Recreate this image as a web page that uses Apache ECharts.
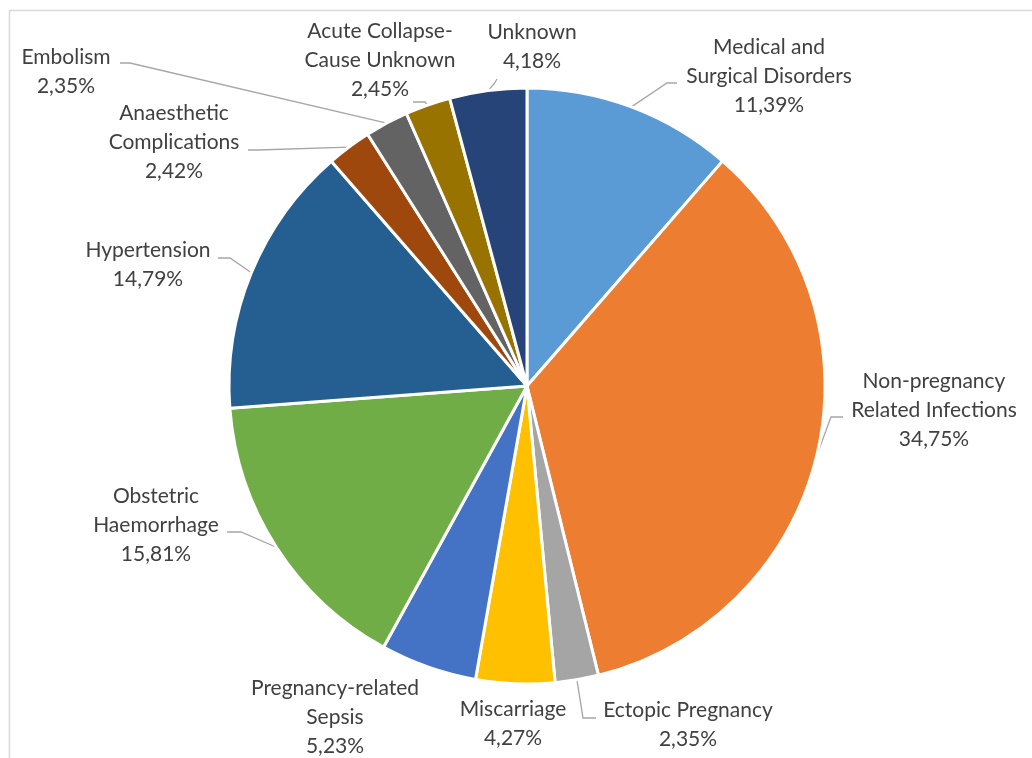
<!DOCTYPE html>
<html>
<head>
<meta charset="utf-8">
<script src="https://cdn.jsdelivr.net/npm/echarts@6/dist/echarts.min.js"></script>
<style>html,body{margin:0;padding:0;background:#fff}#c{width:1032px;height:758px}</style>
</head>
<body>
<div id="c"></div>
<script>
const categories = [
  "Medical and\nSurgical Disorders",
  "Non-pregnancy\nRelated Infections",
  "Ectopic Pregnancy",
  "Miscarriage",
  "Pregnancy-related\nSepsis",
  "Obstetric\nHaemorrhage",
  "Hypertension",
  "Anaesthetic\nComplications",
  "Embolism",
  "Acute Collapse-\nCause Unknown",
  "Unknown"
];
const values = [11.39, 34.75, 2.35, 4.27, 5.23, 15.81, 14.79, 2.42, 2.35, 2.45, 4.18];
const colors = ["#5B9BD5","#ED7D31","#A5A5A5","#FFC000","#4472C4","#70AD47","#255E91","#9E480E","#636363","#997300","#264478"];

// label placement (text block centre) and leader elbow/end points, in pixels
const labelPos = [[769,76],[934,410],[688,725],[513,724],[335,717],[156,525],[148,265],[174,142],[66,72],[380,60],[532,47]];
const leaderElbow = [[667,83],[831,417],[583,718],null,null,[241,532],[230,258],[258,150],[130,63],[425,102],[494,84]];
const leaderEnd = [[677,83],[843,417],[596,718],null,null,[227,532],[218,258],[248,150],[120,63],[413,102],[497,79]];

const fmt = v => v.toFixed(2).replace('.', ',') + '%';

const chart = echarts.init(document.getElementById('c'), null, {renderer: 'canvas'});
chart.setOption({
  animation: false,
  graphic: [{
    type: 'rect', silent: true,
    shape: {x: 9.5, y: 10.5, width: 1100, height: 800},
    style: {fill: 'none', stroke: '#d9d9d9', lineWidth: 1.5}
  }],
  series: [{
    type: 'pie',
    center: [527, 386],
    radius: [0, 298],
    startAngle: 90,
    clockwise: true,
    avoidLabelOverlap: false,
    data: categories.map((n, i) => ({
      name: n, value: values[i],
      itemStyle: {color: colors[i]},
      labelLine: {show: leaderEnd[i] !== null}
    })),
    itemStyle: {borderColor: '#fff', borderWidth: 3},
    label: {
      show: true, position: 'outside',
      formatter: p => p.name + '\n' + fmt(p.value),
      fontFamily: 'Lato, "Liberation Sans", sans-serif',
      fontSize: 21, lineHeight: 29, color: '#404040'
    },
    labelLine: {show: true, length: 10, length2: 10, lineStyle: {color: '#a6a6a6', width: 1.3}},
    labelLayout: function (params) {
      const i = params.dataIndex;
      const r = {x: labelPos[i][0], y: labelPos[i][1], align: 'center', verticalAlign: 'middle'};
      if (leaderEnd[i] && params.labelLinePoints) {
        r.labelLinePoints = [params.labelLinePoints[0], leaderElbow[i], leaderEnd[i]];
      }
      return r;
    }
  }]
});
</script>
</body>
</html>
